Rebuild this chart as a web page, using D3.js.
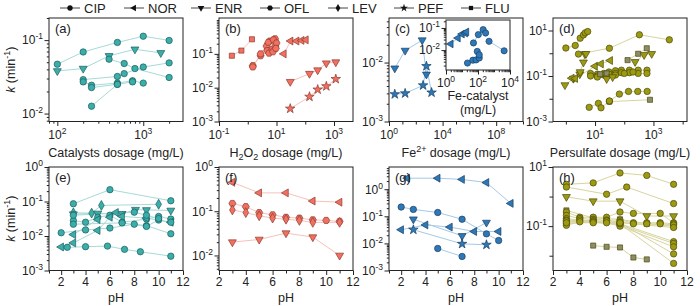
<!DOCTYPE html>
<html>
<head>
<meta charset="utf-8">
<title>Rate constants vs dosage and pH</title>
<style>
  body { margin: 0; background: #fff; }
  svg text { font-family: "Liberation Sans", Arial, sans-serif; fill: #222; }
</style>
</head>
<body>
<div id="container"></div>
<script src="https://cdn.jsdelivr.net/npm/d3@7"></script>
<script>

// ---- DATA (k in min^-1) ----
var drugs = ["CIP", "NOR", "ENR", "OFL", "LEV", "PEF", "FLU"];

// (a) catalysts dosage, mg/L
var dataA = [
  {drug: "CIP", pts: [[100, 0.047], [200, 0.069], [500, 0.093], [1000, 0.113], [2000, 0.099]]},
  {drug: "ENR", pts: [[100, 0.038], [200, 0.041], [400, 0.061], [800, 0.075], [1600, 0.067]]},
  {drug: "CIP", pts: [[400, 0.055], [600, 0.048], [800, 0.041], [2000, 0.031]]},
  {drug: "CIP", pts: [[200, 0.029], [500, 0.032], [600, 0.035], [1000, 0.043], [2000, 0.049]]},
  {drug: "CIP", pts: [[200, 0.027], [250, 0.0243], [500, 0.026], [750, 0.028], [1000, 0.026]]},
  {drug: "CIP", pts: [[250, 0.0226], [500, 0.025], [750, 0.027]]},
  {drug: "CIP", pts: [[250, 0.0126], [500, 0.025]]}
];

// (b) H2O2 dosage, mg/L
var dataB = [
  {drug: "FLU", pts: [[0.28, 0.088], [0.6, 0.125], [1.4, 0.27]]},
  {drug: "OFL", pts: [[1.5, 0.045], [2.8, 0.088], [4.5, 0.17], [5.9, 0.24], [8.9, 0.28]]},
  {drug: "OFL", pts: [[1.5, 0.041], [2.8, 0.1], [5.2, 0.22], [7.8, 0.26]]},
  {drug: "OFL", pts: [[4.8, 0.125], [7.1, 0.135], [9.1, 0.17], [10, 0.21]]},
  {drug: "OFL", pts: [[5.5, 0.105], [7.5, 0.115], [9.5, 0.145]]},
  {drug: "NOR", pts: [[18, 0.1], [31, 0.24], [50, 0.24], [75, 0.25], [105, 0.26]]},
  {drug: "ENR", pts: [[30, 0.015], [140, 0.026], [270, 0.033], [540, 0.053], [1150, 0.057]]},
  {drug: "PEF", pts: [[30, 0.0024], [140, 0.0054], [270, 0.0088], [540, 0.011], [1150, 0.018]]}
];

// (c) Fe2+ dosage, mg/L
var dataC = [
  {drug: "ENR", pts: [[2.7, 0.008], [16, 0.016], [300, 0.024], [620, 0.0063]]},
  {drug: "PEF", pts: [[2.7, 0.0029], [16, 0.003], [350, 0.0041], [620, 0.0087], [1500, 0.0031]]}
];

// (c) inset: Fe-catalyst dosage, mg/L
var dataCInset = [
  {drug: "NOR", pts: [[2, 0.019], [5.6, 0.035], [10, 0.053], [16, 0.059], [19, 0.066]]},
  {drug: "CIP", pts: [[52, 0.021], [105, 0.05], [210, 0.084], [300, 0.059]]},
  {drug: "CIP", pts: [[490, 0.025], [4300, 0.0093]]},
  {drug: "CIP", pts: [[22, 0.0026], [48, 0.0035], [76, 0.0036], [120, 0.0044]]},
  {drug: "CIP", pts: [[90, 0.0087], [120, 0.0061]]}
];

// (d) persulfate dosage, mg/L
var dataD = [
  {drug: "CIP", pts: [[1.0, 1.7], [2.1, 2.2], [3.1, 4.6], [4, 6.4], [4.6, 7.9], [5.6, 9]]},
  {drug: "CIP", pts: [[2.7, 0.92], [31, 1.66], [330, 6.5], [3500, 3.9]]},
  {drug: "ENR", pts: [[0.93, 0.04], [1.8, 0.077], [3, 0.12], [3.1, 0.15], [4, 0.4], [4.5, 0.92], [4.9, 0.95]]},
  {drug: "NOR", pts: [[1.6, 0.08], [2.1, 0.078], [10, 0.27], [16, 0.34], [33, 0.48]]},
  {drug: "FLU", pts: [[130, 0.5], [300, 0.95], [590, 1.66]]},
  {drug: "ENR", pts: [[235, 0.42], [480, 0.85], [870, 0.95]]},
  {drug: "CIP", pts: [[7, 0.13], [12, 0.12], [20, 0.13], [30, 0.15], [50, 0.17], [80, 0.18], [150, 0.18], [300, 0.18], [600, 0.18]]},
  {drug: "CIP", pts: [[7, 0.1], [12, 0.1], [20, 0.11], [30, 0.12], [50, 0.13], [80, 0.14], [150, 0.14], [300, 0.13], [600, 0.13]]},
  {drug: "CIP", pts: [[12, 0.09], [25, 0.1], [50, 0.11], [100, 0.13], [200, 0.15]]},
  {drug: "FLU", pts: [[15, 0.12], [25, 0.13]]},
  {drug: "ENR", pts: [[25, 0.075], [40, 0.09]]},
  {drug: "CIP", pts: [[6.3, 0.0042], [13, 0.0063], [16, 0.004], [31, 0.0078]]},
  {drug: "FLU", pts: [[31, 0.0075], [760, 0.009]]},
  {drug: "CIP", pts: [[31, 0.008], [68, 0.016], [140, 0.021], [290, 0.021], [610, 0.021]]}
];

// (e) catalysts, pH
var dataE = [
  {drug: "CIP", pts: [[3, 0.086], [6, 0.22], [11, 0.105]]},
  {drug: "LEV", pts: [[3, 0.047], [4.5, 0.046], [5.3, 0.077], [10, 0.083]]},
  {drug: "ENR", pts: [[3, 0.043], [5, 0.045], [7, 0.044], [8.1, 0.058], [9, 0.057], [11, 0.055]]},
  {drug: "CIP", pts: [[2, 0.0124], [4, 0.015], [6, 0.017], [8, 0.022], [9, 0.02], [11, 0.0116]]},
  {drug: "CIP", pts: [[3, 0.028], [4, 0.025], [5, 0.035], [6, 0.04], [7, 0.025], [9, 0.031], [10, 0.037], [11, 0.031]]},
  {drug: "NOR", pts: [[2, 0.0048], [3, 0.0063], [5, 0.0145], [6, 0.035], [6.5, 0.048], [7, 0.037], [9, 0.033], [11, 0.025]]},
  {drug: "NOR", pts: [[3, 0.011], [5, 0.03]]},
  {drug: "CIP", pts: [[2.5, 0.0047], [4, 0.0049], [5.8, 0.0051], [7.2, 0.0041], [8.5, 0.0035], [11, 0.0026]]},
  {drug: "CIP", pts: [[3, 0.022], [7, 0.024], [9, 0.019], [10, 0.029], [11, 0.025]]},
  {drug: "CIP", pts: [[3, 0.04], [8, 0.049], [9, 0.04], [10, 0.032]]}
];

// (f) H2O2, pH
var dataF = [
  {drug: "NOR", pts: [[3, 0.45], [5, 0.26], [7, 0.26], [9, 0.17], [11, 0.16]]},
  {drug: "OFL", pts: [[3, 0.15], [4, 0.127], [5, 0.093], [6, 0.083], [7, 0.073], [8, 0.07], [9, 0.064], [10, 0.062], [11, 0.059]]},
  {drug: "LEV", pts: [[3, 0.107], [4, 0.093], [5, 0.079], [6, 0.07], [7, 0.066], [8, 0.062], [9, 0.056], [11, 0.056]]},
  {drug: "ENR", pts: [[3, 0.02], [5, 0.023], [7, 0.032], [9, 0.026], [11, 0.01]]}
];

// (g) Fe2+, pH
var dataG = [
  {drug: "NOR", pts: [[2.5, 2.55], [5, 2.55], [7, 2.3], [9, 1.76], [11, 0.3]]},
  {drug: "CIP", pts: [[2, 0.22], [3, 0.18], [5, 0.138], [7, 0.078], [9, 0.0225], [10, 0.0128]]},
  {drug: "ENR", pts: [[3, 0.078], [7, 0.019], [9, 0.059]]},
  {drug: "NOR", pts: [[2, 0.032], [4, 0.048], [6, 0.04], [8, 0.0275], [10, 0.0275]]},
  {drug: "PEF", pts: [[3, 0.032], [7, 0.0096], [9, 0.0089]]},
  {drug: "CIP", pts: [[5, 0.0065], [7, 0.0033]]}
];

// (h) persulfate, pH
var dataH = [
  {drug: "CIP", pts: [[3, 2.6], [5, 2.9], [7, 6.3], [9, 5.2], [11, 2.6]]},
  {drug: "CIP", pts: [[3, 2.1], [6, 1.2], [7.5, 2.1], [11, 0.58]]},
  {drug: "ENR", pts: [[3, 0.98], [5, 0.7], [7, 0.7], [9, 0.22], [11, 0.22]]},
  {drug: "FLU", pts: [[3, 0.34], [5, 0.19], [7, 0.17], [9, 0.12], [11, 0.1]]},
  {drug: "CIP", pts: [[3, 0.3], [4, 0.2], [5, 0.2], [6, 0.2], [7, 0.3], [8, 0.27], [10, 0.27], [11, 0.13]]},
  {drug: "CIP", pts: [[3, 0.23], [4, 0.18], [5, 0.17], [6, 0.16], [7, 0.16], [8, 0.13], [9, 0.13], [10, 0.13], [11, 0.12]]},
  {drug: "CIP", pts: [[3, 0.18], [4, 0.16], [5, 0.15], [6, 0.15], [7, 0.14], [8, 0.12], [9, 0.12], [10, 0.12], [11, 0.11]]},
  {drug: "CIP", pts: [[3, 0.14], [5, 0.15], [7, 0.12], [11, 0.03]]},
  {drug: "CIP", pts: [[3, 0.12], [5, 0.14], [7, 0.11], [11, 0.026]]},
  {drug: "CIP", pts: [[3, 0.107], [4, 0.14], [6, 0.13], [7, 0.1], [11, 0.02]]},
  {drug: "CIP", pts: [[3, 0.16], [7, 0.13], [11, 0.0115]]},
  {drug: "CIP", pts: [[3, 0.15], [7, 0.12], [11, 0.0055]]},
  {drug: "CIP", pts: [[3, 0.13], [5, 0.13], [7, 0.13], [11, 0.09]]},
  {drug: "FLU", pts: [[5, 0.022], [6, 0.02], [7, 0.019], [8, 0.0087], [9, 0.0075]]}
];

// tick labels
var ticksAx = [100, 1000],         ticksAy = [0.01, 0.1];
var ticksBx = [0.1, 10, 1000],     ticksBy = [0.001, 0.01, 0.1];
var ticksCx = [1, 1e4, 1e8],       ticksCy = [0.001, 0.01];
var ticksCInx = [1, 100, 1e4],     ticksCIny = [0.01, 0.1];
var ticksDx = [10, 1000],          ticksDy = [0.001, 0.1, 10];
var ticksPH = [2, 4, 6, 8, 10, 12];
var ticksEy = [0.001, 0.01, 0.1, 1];
var ticksFy = [0.01, 0.1, 1];
var ticksGy = [0.001, 0.01, 0.1, 1];
var ticksHy = [0.1, 10];

// ---- DRAWING ----
var svg = d3.select("#container").append("svg")
  .attr("width", 700).attr("height", 306);

var themes = {
  teal:   {fill: "#3aaeaa", stroke: "#1d5d5b", line: "#a5dbd8", flu: "#3aaeaa"},
  salmon: {fill: "#f2705f", stroke: "#8c3a30", line: "#f7c2bb", flu: "#f2705f"},
  blue:   {fill: "#2f78b7", stroke: "#173f66", line: "#a4c9e8", flu: "#2f78b7"},
  olive:  {fill: "#9d9a12", stroke: "#4b4a0a", line: "#d8d59f", flu: "#8e8d6a"}
};

var hexagon = {
  draw: function (ctx, size) {
    var r = Math.sqrt(size / (1.5 * Math.sqrt(3)));
    for (var i = 0; i < 6; i++) {
      var a = Math.PI / 3 * i;
      if (i === 0) ctx.moveTo(r * Math.cos(a), r * Math.sin(a));
      else ctx.lineTo(r * Math.cos(a), r * Math.sin(a));
    }
    ctx.closePath();
  }
};

var shapes = {
  CIP: {type: d3.symbolCircle, size: 32, rot: 0},
  NOR: {type: d3.symbolTriangle, size: 27, rot: -90},
  ENR: {type: d3.symbolTriangle, size: 27, rot: 180},
  OFL: {type: hexagon, size: 32, rot: 0},
  LEV: {type: d3.symbolDiamond, size: 28, rot: 0},
  PEF: {type: d3.symbolStar, size: 28, rot: 0},
  FLU: {type: d3.symbolSquare, size: 26, rot: 0}
};

function symbolPath(drug, scale) {
  var s = shapes[drug];
  return d3.symbol().type(s.type).size(s.size * (scale || 1))();
}

function expLabel(sel, v) {
  var e = Math.round(Math.log10(v));
  sel.text("10").append("tspan").attr("dy", -5).style("font-size", "8.5px").text(String(e));
}

// minor tick helpers
function logMinors(dom) {
  var out = [], lo = Math.floor(Math.log10(dom[0])), hi = Math.ceil(Math.log10(dom[1]));
  for (var n = lo; n <= hi; n++)
    for (var k = 1; k <= 9; k++) {
      var v = k * Math.pow(10, n);
      if (v >= dom[0] * 0.999 && v <= dom[1] * 1.001) out.push(v);
    }
  return out;
}
function decMinors(dom) {
  var out = [], lo = Math.ceil(Math.log10(dom[0]) - 1e-9), hi = Math.floor(Math.log10(dom[1]) + 1e-9);
  for (var n = lo; n <= hi; n++) out.push(Math.pow(10, n));
  return out;
}
function linMinors(dom) {
  return d3.range(Math.ceil(dom[0]), Math.floor(dom[1]) + 1);
}
var minorFns = {log: logMinors, dec: decMinors, lin: linMinors};

function drawPanel(p) {
  var th = themes[p.theme];
  var g = svg.append("g");
  var x = (p.xlog ? d3.scaleLog() : d3.scaleLinear()).domain(p.xdom).range([p.left, p.left + p.w]);
  var y = d3.scaleLog().domain(p.ydom).range([p.top + p.h, p.top]);

  // axes (outward ticks)
  var xMin = minorFns[p.xminor](p.xdom).filter(function (v) { return p.xt.indexOf(v) < 0; });
  var yMin = minorFns[p.yminor](p.ydom).filter(function (v) { return p.yt.indexOf(v) < 0; });
  var yBig = p.yminor === "dec" ? 3.5 : 2.2, xBig = p.xminor === "log" ? 2.2 : 3;

  g.append("g").attr("transform", "translate(0," + (p.top + p.h) + ")")
    .call(d3.axisBottom(x).tickValues(xMin).tickSize(xBig).tickFormat(""));
  g.append("g").attr("transform", "translate(0," + (p.top + p.h) + ")")
    .call(d3.axisBottom(x).tickValues(p.xt).tickSize(4.5).tickFormat(""));
  g.append("g").attr("transform", "translate(" + p.left + ",0)")
    .call(d3.axisLeft(y).tickValues(yMin).tickSize(yBig).tickFormat(""));
  g.append("g").attr("transform", "translate(" + p.left + ",0)")
    .call(d3.axisLeft(y).tickValues(p.yt).tickSize(4.5).tickFormat(""));
  g.selectAll(".domain").remove();
  g.selectAll(".tick line").attr("stroke", "#222");

  // tick labels
  g.selectAll(".ylab").data(p.yt).enter().append("text")
    .attr("x", p.left - 6).attr("y", function (d) { return y(d) + 4.3; })
    .attr("text-anchor", "end").style("font-size", p.fs || "12px")
    .each(function (d) { expLabel(d3.select(this), d); });
  g.selectAll(".xlab").data(p.xt).enter().append("text")
    .attr("x", function (d) { return x(d); }).attr("y", p.top + p.h + (p.xlog ? 17 : 15))
    .attr("text-anchor", "middle").style("font-size", p.fs || "12px")
    .each(function (d) {
      if (p.xlog) expLabel(d3.select(this), d);
      else d3.select(this).text(d);
    });

  // series lines then markers
  var line = d3.line().x(function (d) { return x(d[0]); }).y(function (d) { return y(d[1]); });
  g.selectAll(".ser").data(p.data).enter().append("path")
    .attr("d", function (d) { return line(d.pts); })
    .attr("fill", "none").attr("stroke", th.line).attr("stroke-width", 1);

  p.data.forEach(function (s) {
    g.selectAll(null).data(s.pts).enter().append("path")
      .attr("transform", function (d) {
        return "translate(" + x(d[0]) + "," + y(d[1]) + ") rotate(" + shapes[s.drug].rot + ")";
      })
      .attr("d", symbolPath(s.drug, p.msize))
      .attr("fill", s.drug === "FLU" ? th.flu : th.fill)
      .attr("stroke", th.stroke).attr("stroke-width", 0.7);
  });

  g.append("rect").attr("x", p.left).attr("y", p.top).attr("width", p.w).attr("height", p.h)
    .attr("fill", "none").attr("stroke", "#222").attr("stroke-width", 1);

  if (p.label) {
    g.append("text").attr("x", p.left + 6).attr("y", p.top + 15)
      .style("font-size", "13px").text(p.label);
  }
  return g;
}

var TOP1 = 18, TOP2 = 167, PH = 103.5, PW = 134;
var panels = [
  {label: "(a)", data: dataA, left: 49,  top: TOP1, xlog: true, xdom: [80, 2900], ydom: [0.0078, 0.2], xt: ticksAx, yt: ticksAy, xminor: "log", yminor: "log", theme: "teal"},
  {label: "(b)", data: dataB, left: 219, top: TOP1, xlog: true, xdom: [0.1, 4570], ydom: [0.001, 1.15], xt: ticksBx, yt: ticksBy, xminor: "dec", yminor: "log", theme: "salmon"},
  {label: "(c)", data: dataC, left: 389, top: TOP1, xlog: true, xdom: [1, 1e10], ydom: [0.001, 0.057], xt: ticksCx, yt: ticksCy, xminor: "dec", yminor: "log", theme: "blue"},
  {label: "(d)", data: dataD, left: 553, top: TOP1, xlog: true, xdom: [0.363, 14100], ydom: [0.001, 35.5], xt: ticksDx, yt: ticksDy, xminor: "dec", yminor: "dec", theme: "olive"},
  {label: "(e)", data: dataE, left: 49,  top: TOP2, xlog: false, xdom: [1, 12], ydom: [0.001, 1], xt: ticksPH, yt: ticksEy, xminor: "lin", yminor: "log", theme: "teal"},
  {label: "(f)", data: dataF, left: 219, top: TOP2, xlog: false, xdom: [2, 12], ydom: [0.00457, 1], xt: ticksPH, yt: ticksFy, xminor: "lin", yminor: "log", theme: "salmon"},
  {label: "(g)", data: dataG, left: 389, top: TOP2, xlog: false, xdom: [1, 12], ydom: [0.001, 6.6], xt: ticksPH, yt: ticksGy, xminor: "lin", yminor: "log", theme: "blue"},
  {label: "(h)", data: dataH, left: 553, top: TOP2, xlog: false, xdom: [2, 12], ydom: [0.00316, 10], xt: ticksPH, yt: ticksHy, xminor: "lin", yminor: "dec", theme: "olive"}
];
panels.forEach(function (p) { p.w = PW; p.h = PH; drawPanel(p); });

// inset of (c)
var inset = {data: dataCInset, left: 446, top: 20, w: 64, h: 50, xlog: true, xdom: [1, 1e4], ydom: [0.00126, 0.229],
  xt: ticksCInx, yt: ticksCIny, xminor: "log", yminor: "log", theme: "blue", fs: "12px", msize: 0.95};
svg.append("rect").attr("x", inset.left).attr("y", inset.top).attr("width", inset.w).attr("height", inset.h).attr("fill", "#fff");
drawPanel(inset);
svg.append("text").attr("x", 478).attr("y", 100).attr("text-anchor", "middle").style("font-size", "12.5px").text("Fe-catalyst");
svg.append("text").attr("x", 478).attr("y", 114).attr("text-anchor", "middle").style("font-size", "12.5px").text("(mg/L)");

// axis titles
var tY1 = 157, tY2 = 302;
svg.append("text").attr("x", 116).attr("y", tY1).attr("text-anchor", "middle").style("font-size", "12.5px").text("Catalysts dosage (mg/L)");
var h2o2 = svg.append("text").attr("x", 286).attr("y", tY1).attr("text-anchor", "middle").style("font-size", "12.5px");
h2o2.append("tspan").text("H");
h2o2.append("tspan").attr("dy", 3).style("font-size", "9px").text("2");
h2o2.append("tspan").attr("dy", -3).text("O");
h2o2.append("tspan").attr("dy", 3).style("font-size", "9px").text("2");
h2o2.append("tspan").attr("dy", -3).text(" dosage (mg/L)");
var fe = svg.append("text").attr("x", 456).attr("y", tY1).attr("text-anchor", "middle").style("font-size", "12.5px");
fe.append("tspan").text("Fe");
fe.append("tspan").attr("dy", -5).style("font-size", "9px").text("2+");
fe.append("tspan").attr("dy", 5).text(" dosage (mg/L)");
svg.append("text").attr("x", 620).attr("y", tY1).attr("text-anchor", "middle").style("font-size", "12.5px").text("Persulfate dosage (mg/L)");
[116, 286, 456, 620].forEach(function (cx) {
  svg.append("text").attr("x", cx).attr("y", tY2).attr("text-anchor", "middle").style("font-size", "12.5px").text("pH");
});

// y titles
[[TOP1 + PH / 2], [TOP2 + PH / 2]].forEach(function (c) {
  var t = svg.append("text").attr("transform", "translate(15," + c[0] + ") rotate(-90)")
    .attr("text-anchor", "middle").style("font-size", "12.5px");
  t.append("tspan").style("font-style", "italic").text("k");
  t.append("tspan").text(" (min");
  t.append("tspan").attr("dy", -5).style("font-size", "9px").text("-1");
  t.append("tspan").attr("dy", 5).text(")");
});

// legend
var legX = [60, 124, 191, 260, 328, 394, 461];
var leg = svg.append("g");
drugs.forEach(function (d, i) {
  var x0 = legX[i];
  leg.append("line").attr("x1", x0).attr("x2", x0 + 20).attr("y1", 8).attr("y2", 8)
    .attr("stroke", "#444").attr("stroke-width", 1);
  leg.append("path").attr("d", symbolPath(d, 0.7))
    .attr("transform", "translate(" + (x0 + 10) + ",8) rotate(" + shapes[d].rot + ")")
    .attr("fill", "#111");
  leg.append("text").attr("x", x0 + 24).attr("y", 12.5).style("font-size", "13px").text(d);
});

</script>
</body>
</html>
